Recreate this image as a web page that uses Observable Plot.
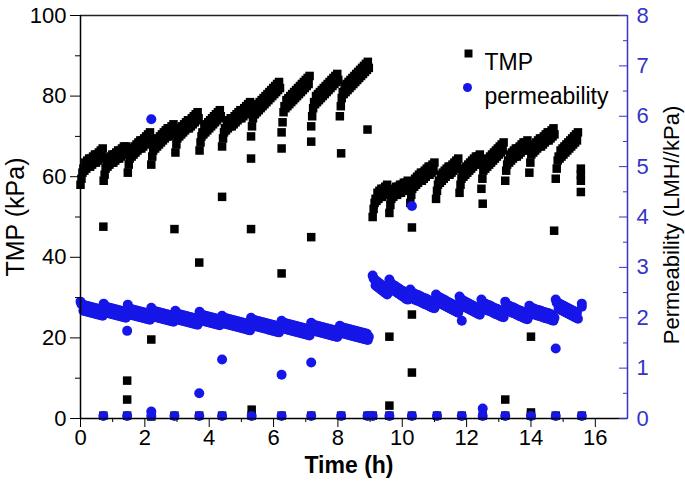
<!DOCTYPE html>
<html><head><meta charset="utf-8">
<script src="https://cdn.jsdelivr.net/npm/d3@7"></script>
<script src="https://cdn.jsdelivr.net/npm/@observablehq/plot@0.6"></script>
<style>body{margin:0;background:#fff}</style>
</head><body><div id="chart"></div>
<script>
// Logging interval of the membrane run (h)
const sampleStep = 0.03;
// Start time (h) of each filtration cycle
const cycleStart = [0, 0.72, 1.47, 2.2, 2.95, 3.7, 4.4, 5.3, 6.25, 7.17, 8.06,
  9.08, 9.6, 10.25, 11.05, 11.78, 12.46, 13.2, 13.95, 14.77];
// TMP (kPa) readings within each cycle
const tmpCycles = [
  [58, 59.5, 61, 62, 61.5, 63.5, 62, 64, 62.5, 64.5, 62.5, 64.5, 63, 65, 63.5, 65.5, 63.5, 65.5, 64, 66, 64.5, 66.5, 65, 67],
  [59, 60.5, 62, 63, 62.5, 64.5, 63, 65, 63.5, 65.5, 63.5, 65.5, 64, 66, 64.5, 66.5, 64.5, 66.5, 65, 67, 65.5, 67.5, 65.5, 67.5, 66],
  [61, 63, 64.5, 65.5, 65, 67, 65.5, 67.5, 66, 68, 66.5, 68.5, 67, 69, 67, 69, 67.5, 69.5, 68, 70, 68.5, 70.5, 69, 71],
  [63, 65, 66.5, 67.5, 67, 69, 67.5, 69.5, 68, 70, 68.5, 70.5, 69, 71, 69.5, 71.5, 70, 72, 70, 72, 70.5, 72.5, 71, 73, 71.5],
  [66, 68, 69.5, 70.5, 70, 72, 70.5, 72.5, 71, 73, 71.5, 73.5, 72, 74, 72, 74, 72.5, 74.5, 73, 75, 73.5, 75.5, 74, 76, 74.5],
  [66.5, 68.5, 70, 71, 70.5, 72.5, 71, 73, 71.5, 73.5, 72, 74, 72.5, 74.5, 73, 75, 73.5, 75.5, 74, 76, 74.5, 76.5, 75],
  [67.5, 69.5, 71, 72, 71.5, 73.5, 72, 74, 72.5, 74.5, 72.5, 74.5, 73, 75, 73.5, 75.5, 74, 76, 74.5, 76.5, 74.5, 76.5, 75, 77, 75.5, 77.5, 76, 78, 76.5, 78.5],
  [70, 72.5, 74.5, 76, 75.5, 77.5, 76, 78, 76.5, 78.5, 77, 79, 77.5, 79.5, 78, 80, 78.5, 80.5, 79, 81, 79.5, 81.5, 80, 82, 80.5, 82.5, 81, 83, 81.5, 83.5, 82],
  [71, 73.5, 76, 77.5, 77, 79, 77.5, 79.5, 78, 80, 78.5, 80.5, 79, 81, 79.5, 81.5, 80, 82, 80.5, 82.5, 81, 83, 81.5, 83.5, 82, 84, 82.5, 84.5, 83, 85],
  [72.5, 75, 77, 78.5, 78, 80, 78.5, 80.5, 79, 81, 79.5, 81.5, 80, 82, 80.5, 82.5, 81, 83, 81.5, 83.5, 82, 84, 82.5, 84.5, 83, 85, 83.5, 85.5, 84],
  [75, 77.5, 79.5, 81, 80.5, 82.5, 81, 83, 81.5, 83.5, 82, 84, 82.5, 84.5, 83, 85, 83.5, 85.5, 84, 86, 84.5, 86.5, 85, 87, 85.5, 87.5, 86, 88, 86.5, 88.5, 87],
  [50, 52, 53.5, 54.5, 54, 56, 54.5, 56.5, 55, 57, 55, 57, 55.5, 57.5, 56, 58, 56.5],
  [51, 53, 54.5, 55.5, 55, 57, 55.5, 57.5, 55.5, 57.5, 56, 58, 56, 58, 56.5, 58.5, 56.5, 58.5, 57, 59, 57.5],
  [53.5, 55.5, 57, 58, 57.5, 59.5, 58, 60, 58.5, 60.5, 59, 61, 59, 61, 59.5, 61.5, 60, 62, 60.5, 62.5, 60.5, 62.5, 61, 63, 61.5, 63.5],
  [54.5, 56.5, 58, 59, 58.5, 60.5, 59, 61, 59.5, 61.5, 60, 62, 60.5, 62.5, 60.5, 62.5, 61, 63, 61.5, 63.5, 62, 64, 62.5, 64.5],
  [56, 58, 59.5, 60.5, 60, 62, 60.5, 62.5, 61, 63, 61.5, 63.5, 62, 64, 62.5, 64.5, 63, 65, 63, 65, 63.5, 65.5],
  [57, 59.5, 61.5, 62.5, 62, 64, 62.5, 64.5, 63, 65, 63.5, 65.5, 64, 66, 64.5, 66.5, 65, 67, 65.5, 67.5, 66, 68, 66.5, 68.5],
  [59, 61.5, 63, 64, 63.5, 65.5, 64, 66, 64.5, 66.5, 65, 67, 65, 67, 65.5, 67.5, 66, 68, 66.5, 68.5, 66.5, 68.5, 67, 69, 67.5],
  [61, 63.5, 65.5, 66.5, 66, 68, 66.5, 68.5, 67, 69, 67.5, 69.5, 67.5, 69.5, 68, 70, 68.5, 70.5, 69, 71, 69, 71, 69.5, 71.5, 70, 72, 70.5],
  [59.5, 62, 64, 65, 64.5, 66.5, 65, 67, 65.5, 67.5, 66, 68, 66.5, 68.5, 67, 69, 67.5, 69.5, 68, 70, 68.5, 70.5, 69, 71]
];
// Permeability (LMH/kPa) readings within each cycle
const permCycles = [
  [2.32, 2.27, 2.26, 2.14, 2.25, 2.13, 2.24, 2.12, 2.23, 2.11, 2.22, 2.10, 2.21, 2.09, 2.2, 2.08, 2.19, 2.07, 2.18, 2.06, 2.17, 2.05, 2.16, 2.04],
  [2.28, 2.23, 2.22, 2.1, 2.21, 2.09, 2.2, 2.08, 2.19, 2.07, 2.18, 2.06, 2.17, 2.05, 2.16, 2.04, 2.15, 2.03, 2.14, 2.02, 2.13, 2.01, 2.12, 2.0, 2.06],
  [2.26, 2.2, 2.18, 2.06, 2.17, 2.05, 2.16, 2.04, 2.15, 2.03, 2.14, 2.02, 2.13, 2.01, 2.12, 2.0, 2.11, 1.99, 2.1, 1.98, 2.09, 1.97, 2.08, 1.96],
  [2.2, 2.15, 2.14, 2.02, 2.13, 2.01, 2.12, 2.0, 2.11, 1.99, 2.1, 1.98, 2.09, 1.97, 2.08, 1.96, 2.07, 1.95, 2.06, 1.94, 2.05, 1.93, 2.04, 1.92, 1.98],
  [2.14, 2.09, 2.08, 1.96, 2.07, 1.95, 2.06, 1.94, 2.05, 1.93, 2.04, 1.92, 2.03, 1.91, 2.02, 1.9, 2.01, 1.89, 2.0, 1.88, 1.99, 1.87, 1.98, 1.86, 1.92],
  [2.12, 2.07, 2.06, 1.94, 2.05, 1.93, 2.04, 1.92, 2.03, 1.91, 2.02, 1.9, 2.01, 1.89, 2.0, 1.88, 1.99, 1.87, 1.98, 1.86, 1.97, 1.85, 1.9],
  [2.04, 1.99, 2.0, 1.88, 1.99, 1.87, 1.98, 1.86, 1.97, 1.85, 1.96, 1.84, 1.95, 1.83, 1.94, 1.82, 1.93, 1.81, 1.92, 1.8, 1.91, 1.79, 1.9, 1.78, 1.89, 1.77, 1.88, 1.76, 1.87, 1.75],
  [2.0, 1.95, 1.96, 1.84, 1.95, 1.83, 1.94, 1.82, 1.93, 1.81, 1.92, 1.8, 1.91, 1.79, 1.9, 1.78, 1.89, 1.77, 1.88, 1.76, 1.87, 1.75, 1.86, 1.74, 1.85, 1.73, 1.84, 1.72, 1.83, 1.71, 1.77],
  [1.94, 1.89, 1.9, 1.78, 1.89, 1.77, 1.88, 1.76, 1.87, 1.75, 1.86, 1.74, 1.85, 1.73, 1.84, 1.72, 1.83, 1.71, 1.82, 1.7, 1.81, 1.69, 1.8, 1.68, 1.79, 1.67, 1.78, 1.66, 1.77, 1.65],
  [1.9, 1.85, 1.86, 1.74, 1.85, 1.73, 1.84, 1.72, 1.83, 1.71, 1.82, 1.7, 1.81, 1.69, 1.8, 1.68, 1.79, 1.67, 1.78, 1.66, 1.77, 1.65, 1.76, 1.64, 1.75, 1.63, 1.74, 1.62, 1.68],
  [1.84, 1.79, 1.81, 1.69, 1.8, 1.68, 1.79, 1.67, 1.78, 1.66, 1.77, 1.65, 1.76, 1.64, 1.75, 1.63, 1.74, 1.62, 1.73, 1.61, 1.72, 1.6, 1.71, 1.59, 1.7, 1.58, 1.69, 1.57, 1.68, 1.56, 1.62],
  [2.84, 2.78, 2.76, 2.64, 2.73, 2.61, 2.7, 2.58, 2.67, 2.55, 2.64, 2.52, 2.61, 2.49, 2.58, 2.46, 2.5],
  [2.76, 2.7, 2.68, 2.56, 2.65, 2.53, 2.63, 2.51, 2.6, 2.48, 2.58, 2.46, 2.55, 2.43, 2.53, 2.41, 2.5, 2.38, 2.48, 2.36, 2.4],
  [2.56, 2.51, 2.5, 2.38, 2.48, 2.36, 2.46, 2.34, 2.45, 2.33, 2.43, 2.31, 2.41, 2.29, 2.39, 2.27, 2.38, 2.26, 2.36, 2.24, 2.34, 2.22, 2.32, 2.2, 2.31, 2.19],
  [2.46, 2.41, 2.42, 2.3, 2.4, 2.28, 2.38, 2.26, 2.36, 2.24, 2.34, 2.22, 2.32, 2.2, 2.3, 2.18, 2.28, 2.16, 2.26, 2.14, 2.24, 2.12, 2.22, 2.1],
  [2.42, 2.36, 2.36, 2.24, 2.34, 2.22, 2.32, 2.2, 2.3, 2.18, 2.28, 2.16, 2.26, 2.14, 2.24, 2.12, 2.22, 2.1, 2.2, 2.08, 2.18, 2.06],
  [2.36, 2.3, 2.3, 2.18, 2.28, 2.16, 2.26, 2.14, 2.25, 2.13, 2.23, 2.11, 2.21, 2.09, 2.19, 2.07, 2.18, 2.06, 2.16, 2.04, 2.14, 2.02, 2.13, 2.01],
  [2.32, 2.26, 2.26, 2.14, 2.24, 2.12, 2.22, 2.1, 2.21, 2.09, 2.19, 2.07, 2.17, 2.05, 2.15, 2.03, 2.14, 2.02, 2.12, 2.0, 2.1, 1.98, 2.09, 1.97, 2.02],
  [2.24, 2.19, 2.2, 2.08, 2.19, 2.07, 2.17, 2.05, 2.16, 2.04, 2.15, 2.03, 2.14, 2.02, 2.12, 2.0, 2.11, 1.99, 2.1, 1.98, 2.09, 1.97, 2.07, 1.95, 2.06, 1.94, 2.0],
  [2.36, 2.3, 2.3, 2.18, 2.28, 2.16, 2.26, 2.14, 2.24, 2.12, 2.22, 2.1, 2.2, 2.08, 2.18, 2.06, 2.16, 2.04, 2.14, 2.02, 2.12, 2.0, 2.1, 1.98]
];
// Isolated readings during backwash / relaxation
const tmpExtraT = [0.71, 1.45, 1.45, 2.2, 2.92, 3.69, 4.4, 5.3, 5.3, 5.32, 6.25, 6.25, 7.17, 7.17, 8.1, 8.92,
  9.6, 9.6, 10.3, 10.3, 10.3, 12.5, 13.2, 14.0, 14.0, 14.72, 15.55, 15.55, 15.55, 15.55];
const tmpExtraV = [47.6, 9.4, 4.7, 19.6, 47, 38.7, 55, 64.5, 47, 2.2, 67, 36, 68.7, 45, 65.8, 71.7,
  3.2, 20.3, 47.4, 25.8, 11.4, 53.3, 4.7, 20.3, 1.5, 46.6, 62, 60.5, 59, 56.2];
const permExtraT = [1.45, 2.2, 2.2, 3.69, 4.4, 6.25, 7.17, 10.3, 11.85, 12.5, 14.77, 15.58, 15.58];
const permExtraV = [1.74, 5.94, 0.14, 0.5, 1.17, 0.87, 1.11, 4.22, 1.94, 0.2, 1.39, 2.22, 2.28];
// Readings near zero recorded at each cycle switch
const switchT = [0.71, 1.45, 2.2, 2.92, 3.69, 4.4, 5.32, 6.25, 7.17, 8.1, 8.92, 9.08, 9.6, 10.3,
  11.08, 11.85, 12.5, 13.2, 14.0, 14.77, 15.58];
const tmpSwitchV = [0.7, 0.7, 0.5, 0.7, 0.7, 0.7, 0.7, 0.7, 0.7, 0.7, 0.7, 0.7, 0.7, 0.7,
  0.7, 0.7, 0.7, 0.7, 0.7, 0.7, 0.7];
const permSwitchV = [0.05, 0.05, 0.05, 0.05, 0.05, 0.05, 0.05, 0.05, 0.05, 0.05, 0.05, 0.05, 0.05, 0.05,
  0.05, 0.05, 0.05, 0.05, 0.05, 0.05, 0.05];
// Axis ticks
const xMajor = [0, 2, 4, 6, 8, 10, 12, 14, 16];
const xMinor = [1, 3, 5, 7, 9, 11, 13, 15];
const tmpMajor = [0, 20, 40, 60, 80, 100];
const tmpMinor = [10, 30, 50, 70, 90];
const permMajor = [0, 1, 2, 3, 4, 5, 6, 7, 8];
const permMinor = [0.5, 1.5, 2.5, 3.5, 4.5, 5.5, 6.5, 7.5];

const permToTmp = 100 / 8; // right axis 0–8 spans the same height as left axis 0–100
const blue = "#1616e8";
const axisBlue = "#3434c8";

const tmpRows = [], permRows = [];
cycleStart.forEach((s, i) => {
  tmpCycles[i].forEach((v, j) => tmpRows.push({t: s + j * sampleStep, v}));
  permCycles[i].forEach((v, j) => permRows.push({t: s + j * sampleStep, v}));
});
tmpExtraT.forEach((t, i) => tmpRows.push({t, v: tmpExtraV[i]}));
permExtraT.forEach((t, i) => permRows.push({t, v: permExtraV[i]}));
switchT.forEach((t, i) => {
  tmpRows.push({t, v: tmpSwitchV[i]});
  permRows.push({t, v: permSwitchV[i]});
});

const font = "'Liberation Sans', Arial, sans-serif";
const chart = Plot.plot({
  width: 685, height: 486,
  marginLeft: 80, marginRight: 58, marginTop: 15, marginBottom: 68,
  x: {domain: [0, 17]},
  y: {domain: [0, 100]},
  style: {fontFamily: font, fontSize: "22px", background: "white", color: "black"},
  marks: [
    Plot.dot(tmpRows, {x: "t", y: "v", symbol: "square", r: 4.8, fill: "black"}),
    Plot.dot(permRows, {x: "t", y: d => d.v * permToTmp, symbol: "circle", r: 5, fill: blue}),
    Plot.ruleY([0], {stroke: "black", strokeWidth: 1.5}),
    Plot.ruleY([100], {stroke: "#222", strokeWidth: 1.5}),
    Plot.ruleX([0], {stroke: "black", strokeWidth: 1.5}),
    Plot.ruleX([17], {stroke: axisBlue, strokeWidth: 1.5}),
    Plot.axisX({ticks: xMajor, tickSize: 9, tickPadding: 2, label: null, fontSize: 22}),
    Plot.axisX({ticks: xMinor, tickSize: 4, tickFormat: () => "", label: null}),
    Plot.axisY({ticks: tmpMajor, tickSize: 10, tickPadding: 4, label: null, fontSize: 22}),
    Plot.axisY({ticks: tmpMinor, tickSize: 5, tickFormat: () => "", label: null}),
    Plot.axisY({anchor: "right", ticks: permMajor.map(d => d * permToTmp), tickSize: -9, tickFormat: () => "", label: null, stroke: axisBlue}),
    Plot.axisY({anchor: "right", ticks: permMinor.map(d => d * permToTmp), tickSize: -5, tickFormat: () => "", label: null, stroke: axisBlue}),
    Plot.axisY({anchor: "right", ticks: permMajor.map(d => d * permToTmp), tickSize: 0, tickPadding: 9, tickFormat: d => String(Math.round(d / permToTmp)), label: null, fill: axisBlue, fontSize: 22}),
    // legend
    Plot.dot([0], {frameAnchor: "top-right", dx: -159, dy: 38, symbol: "square", r: 4.5, fill: "black"}),
    Plot.text(["TMP"], {frameAnchor: "top-right", dx: -143, dy: 38, textAnchor: "start", fontSize: 23}),
    Plot.dot([0], {frameAnchor: "top-right", dx: -160, dy: 72, symbol: "circle", r: 4.5, fill: blue}),
    Plot.text(["permeability"], {frameAnchor: "top-right", dx: -143, dy: 72, textAnchor: "start", fontSize: 23}),
    // axis titles
    Plot.text(["TMP (kPa)"], {frameAnchor: "left", dx: -65, rotate: -90, textAnchor: "middle", fontSize: 25}),
    Plot.text(["Permeability (LMH//kPa)"], {frameAnchor: "right", dx: 44, dy: 8, rotate: -90, textAnchor: "middle", fontSize: 22}),
    Plot.text(["Time (h)"], {frameAnchor: "bottom", dx: -5, dy: 54, textAnchor: "middle", fontSize: 23, fontWeight: "bold"})
  ]
});
document.getElementById("chart").append(chart);
</script>
</body></html>
